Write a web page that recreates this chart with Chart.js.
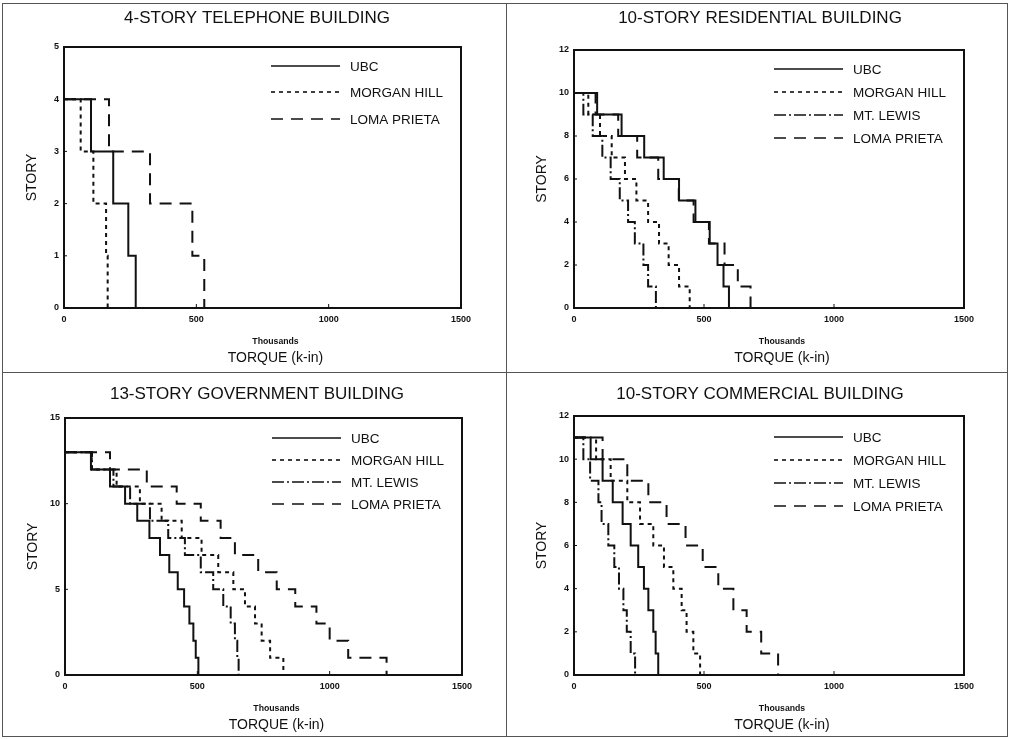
<!DOCTYPE html>
<html>
<head>
<meta charset="utf-8">
<title>Torque por piso</title>
<script src="https://cdn.jsdelivr.net/npm/chart.js@4.4.0/dist/chart.umd.min.js"></script>
<style>
  body { margin: 0; background: #fff; width: 1010px; height: 739px; position: relative; overflow: hidden; }
  .linea { position: absolute; background: #555; }
  canvas { position: absolute; }
</style>
</head>
<body>
<div class="linea" style="left:2px;top:3px;width:1006px;height:1px"></div>
<div class="linea" style="left:2px;top:736px;width:1006px;height:1px"></div>
<div class="linea" style="left:2px;top:3px;width:1px;height:734px"></div>
<div class="linea" style="left:1007px;top:3px;width:1px;height:734px"></div>
<div class="linea" style="left:506px;top:3px;width:1px;height:734px"></div>
<div class="linea" style="left:2px;top:372px;width:1006px;height:1px"></div>

<canvas id="panelTel" width="500" height="366" style="left:4px;top:4px"></canvas>
<canvas id="panelRes" width="498" height="366" style="left:508px;top:4px"></canvas>
<canvas id="panelGov" width="500" height="360" style="left:4px;top:374px"></canvas>
<canvas id="panelCom" width="498" height="360" style="left:508px;top:374px"></canvas>

<script>
const xTicks = [0, 500, 1000, 1500];

// ==================== 4-STORY TELEPHONE ====================
const telStories = [4, 3, 2, 1];
const telUBC = [102, 186, 243, 271];
const telMorganHill = [63, 111, 159, 165];
const telLomaPrieta = [170, 325, 485, 530];
const telYTicks = [0, 1, 2, 3, 4, 5];

// ==================== 10-STORY RESIDENTIAL ====================
const resStories = [10, 9, 8, 7, 6, 5, 4, 3, 2, 1];
const resUBC = [89, 183, 270, 345, 404, 467, 522, 552, 575, 596];
const resMorganHill = [55, 100, 145, 196, 240, 285, 327, 364, 404, 445];
const resMtLewis = [36, 72, 109, 141, 176, 208, 234, 267, 285, 315];
const resLomaPrieta = [83, 170, 243, 324, 403, 460, 519, 579, 630, 679];
const resYTicks = [0, 2, 4, 6, 8, 10, 12];

// ==================== 13-STORY GOVERNMENT ====================
const govStories = [13, 12, 11, 10, 9, 8, 7, 6, 5, 4, 3, 2, 1];
const govUBC = [98, 170, 227, 273, 319, 359, 394, 426, 450, 470, 485, 494, 504];
const govMorganHill = [101, 195, 283, 365, 441, 516, 579, 636, 680, 718, 743, 775, 825];
const govMtLewis = [102, 183, 246, 321, 390, 453, 513, 560, 598, 626, 642, 651, 656];
const govLomaPrieta = [170, 309, 422, 513, 588, 642, 730, 800, 870, 950, 1000, 1070, 1215];
const govYTicks = [0, 5, 10, 15];

// ==================== 10-STORY COMMERCIAL ====================
const comStories = [11, 10, 9, 8, 7, 6, 5, 4, 3, 2, 1];
const comUBC = [64, 110, 149, 187, 218, 247, 269, 286, 305, 314, 324];
const comMorganHill = [85, 141, 205, 254, 305, 346, 382, 414, 433, 459, 485];
const comMtLewis = [36, 62, 94, 106, 132, 155, 173, 190, 203, 218, 235];
const comLomaPrieta = [110, 205, 286, 356, 429, 495, 555, 613, 664, 720, 785];
const comYTicks = [0, 2, 4, 6, 8, 10, 12];

const FUENTE = '"Liberation Sans", Arial, Helvetica, sans-serif';
const TINTA = '#111';

const trazos = {
  'UBC': [],
  'MORGAN HILL': [4, 4],
  'MT. LEWIS': [12, 3, 2, 3],
  'LOMA PRIETA': [12, 8]
};

// escalera: horizontal en cada piso, vertical bajando al siguiente
function escalera(pisos, torque) {
  const pts = [{ x: 0, y: pisos[0] }];
  pisos.forEach((p, i) => {
    pts.push({ x: torque[i], y: p });
    pts.push({ x: torque[i], y: p - 1 });
  });
  return pts;
}

// marco, marcas internas, títulos y leyenda
const decorado = {
  id: 'decorado',
  afterDraw(chart, args, o) {
    const { ctx, chartArea: a, scales } = chart;
    ctx.save();
    ctx.strokeStyle = TINTA;
    ctx.fillStyle = TINTA;

    ctx.lineWidth = 2;
    ctx.setLineDash([]);
    ctx.strokeRect(a.left, a.top, a.right - a.left, a.bottom - a.top);

    ctx.lineWidth = 1;
    scales.x.ticks.slice(1, -1).forEach(t => {
      const px = scales.x.getPixelForValue(t.value);
      ctx.beginPath(); ctx.moveTo(px, a.bottom); ctx.lineTo(px, a.bottom - 4); ctx.stroke();
    });
    scales.y.ticks.slice(1, -1).forEach(t => {
      const py = scales.y.getPixelForValue(t.value);
      ctx.beginPath(); ctx.moveTo(a.left, py); ctx.lineTo(a.left + 3, py); ctx.stroke();
    });

    const medio = (a.left + a.right) / 2;
    ctx.textBaseline = 'middle';
    ctx.textAlign = 'center';
    ctx.font = '17px ' + FUENTE;
    ctx.fillText(o.titulo, chart.width / 2 + 3, o.tituloY);

    ctx.font = 'bold 8.7px ' + FUENTE;
    ctx.fillText('Thousands', medio + 13, a.bottom + 34);
    ctx.font = '14px ' + FUENTE;
    ctx.fillText('TORQUE (k-in)', medio + 13, a.bottom + 50);

    ctx.save();
    ctx.translate(a.left - 32, (a.top + a.bottom) / 2);
    ctx.rotate(-Math.PI / 2);
    ctx.fillText('STORY', 0, 0);
    ctx.restore();

    // leyenda
    ctx.textAlign = 'left';
    ctx.font = '13.5px ' + FUENTE;
    chart.data.datasets.forEach((ds, i) => {
      const y = a.top + o.filas[i];
      ctx.lineWidth = 1.6;
      ctx.setLineDash(ds.borderDash);
      ctx.beginPath(); ctx.moveTo(a.right - 190, y); ctx.lineTo(a.right - 121, y); ctx.stroke();
      ctx.setLineDash([]);
      ctx.fillText(ds.label, a.right - 111, y + 1);
    });
    ctx.restore();
  }
};

function crearPanel(id, titulo, pisos, series, yTicks, area, tituloY, filas) {
  const canvas = document.getElementById(id);
  const W = canvas.width, H = canvas.height;
  const ticksFont = { family: FUENTE, size: 9, weight: 'bold' };

  new Chart(canvas, {
    type: 'scatter',
    data: {
      datasets: series.map(s => ({
        label: s.label,
        data: escalera(pisos, s.valores),
        showLine: true,
        borderColor: TINTA,
        borderWidth: 2,
        borderDash: trazos[s.label],
        pointRadius: 0,
        pointHoverRadius: 0,
        tension: 0
      }))
    },
    options: {
      responsive: false,
      animation: false,
      events: [],
      layout: { padding: { left: 0, top: area.top, right: W - area.right, bottom: 0 } },
      plugins: {
        legend: { display: false },
        tooltip: { enabled: false },
        decorado: { titulo, tituloY, filas }
      },
      scales: {
        x: {
          type: 'linear', min: 0, max: 1500,
          afterBuildTicks: s => { s.ticks = xTicks.map(v => ({ value: v })); },
          afterFit: s => { s.height = H - area.bottom; s.paddingLeft = 0; s.paddingRight = 0; },
          ticks: { color: TINTA, font: ticksFont, padding: 6, maxRotation: 0, autoSkip: false, callback: v => String(v) },
          grid: { display: false, drawTicks: false },
          border: { display: false }
        },
        y: {
          type: 'linear', min: yTicks[0], max: yTicks[yTicks.length - 1],
          afterBuildTicks: s => { s.ticks = yTicks.map(v => ({ value: v })); },
          afterFit: s => { s.width = area.left; s.paddingTop = 0; s.paddingBottom = 0; },
          ticks: { color: TINTA, font: ticksFont, padding: 5, autoSkip: false, callback: v => String(v) },
          grid: { display: false, drawTicks: false },
          border: { display: false }
        }
      }
    },
    plugins: [decorado]
  });
}

document.addEventListener("DOMContentLoaded", () => {
  crearPanel('panelTel', '4-STORY TELEPHONE BUILDING', telStories, [
    { label: 'UBC', valores: telUBC },
    { label: 'MORGAN HILL', valores: telMorganHill },
    { label: 'LOMA PRIETA', valores: telLomaPrieta }
  ], telYTicks, { left: 60, top: 43, right: 457, bottom: 304 }, 14, [19, 45, 72]);

  crearPanel('panelRes', '10-STORY RESIDENTIAL BUILDING', resStories, [
    { label: 'UBC', valores: resUBC },
    { label: 'MORGAN HILL', valores: resMorganHill },
    { label: 'MT. LEWIS', valores: resMtLewis },
    { label: 'LOMA PRIETA', valores: resLomaPrieta }
  ], resYTicks, { left: 66, top: 46, right: 456, bottom: 304 }, 14, [19, 42, 65, 88]);

  crearPanel('panelGov', '13-STORY GOVERNMENT BUILDING', govStories, [
    { label: 'UBC', valores: govUBC },
    { label: 'MORGAN HILL', valores: govMorganHill },
    { label: 'MT. LEWIS', valores: govMtLewis },
    { label: 'LOMA PRIETA', valores: govLomaPrieta }
  ], govYTicks, { left: 61, top: 44, right: 458, bottom: 301 }, 20, [20, 42, 64, 86]);

  crearPanel('panelCom', '10-STORY COMMERCIAL BUILDING', comStories, [
    { label: 'UBC', valores: comUBC },
    { label: 'MORGAN HILL', valores: comMorganHill },
    { label: 'MT. LEWIS', valores: comMtLewis },
    { label: 'LOMA PRIETA', valores: comLomaPrieta }
  ], comYTicks, { left: 66, top: 42, right: 456, bottom: 301 }, 20, [21, 44, 67, 90]);
});
</script>
</body>
</html>
